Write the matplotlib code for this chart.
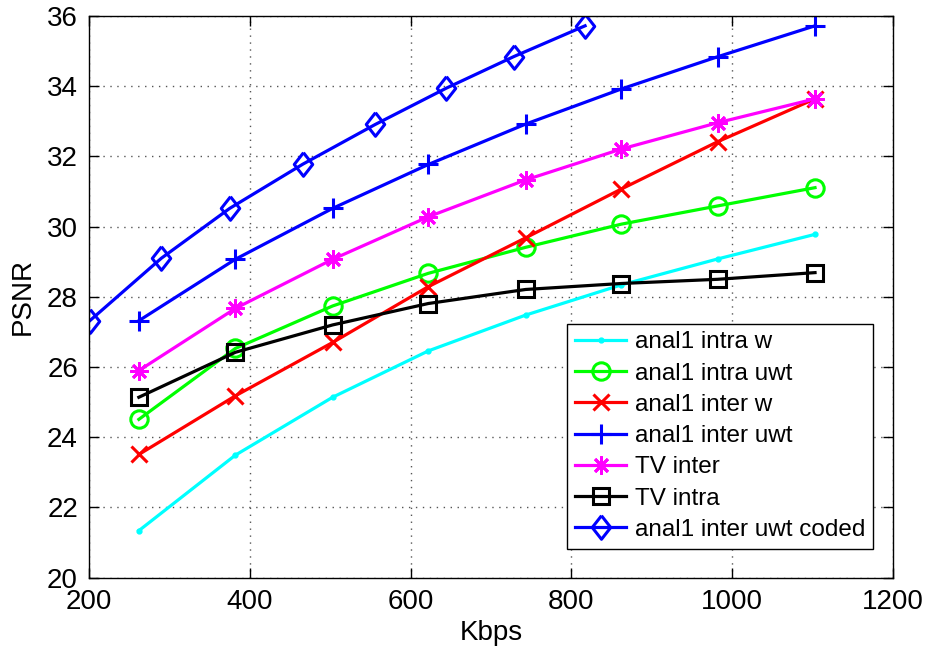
import numpy as np
import matplotlib
matplotlib.use("Agg")
import matplotlib.pyplot as plt

plt.rcParams['font.family'] = ['Liberation Sans', 'DejaVu Sans']

# rates (Kbps)
rate = [262, 382, 503, 622, 743, 862, 982, 1103]
rate_coded = [201, 290, 375, 466, 556, 644, 728, 817]

# PSNR values
intra_w = [21.34, 23.49, 25.14, 26.46, 27.48, 28.34, 29.08, 29.78]
intra_uwt = [24.51, 26.53, 27.74, 28.67, 29.41, 30.07, 30.59, 31.11]
inter_w = [23.51, 25.18, 26.70, 28.29, 29.68, 31.07, 32.42, 33.64]
inter_uwt = [27.32, 29.07, 30.52, 31.77, 32.92, 33.92, 34.84, 35.72]
tv_inter = [25.90, 27.67, 29.07, 30.28, 31.33, 32.21, 32.96, 33.64]
tv_intra = [25.14, 26.42, 27.20, 27.81, 28.21, 28.38, 28.50, 28.69]
inter_uwt_coded = [27.32, 29.10, 30.52, 31.78, 32.91, 33.94, 34.84, 35.72]

# matlab-like diamond (a bit taller than wide)
diamond = [(0, 1.15), (0.9, 0), (0, -1.15), (-0.9, 0), (0, 1.15)]

fig = plt.figure(figsize=(9.31, 6.47), dpi=100)
ax = fig.add_axes([0.0956, 0.1071, 0.8636, 0.8682])

lw = 2.3
ax.plot(rate, intra_w, '.-', color='cyan', lw=lw, ms=7, label='anal1 intra w')
ax.plot(rate, intra_uwt, 'o-', color='#00ff00', lw=lw, ms=12.5, mfc='none', mew=2.2, label='anal1 intra uwt')
ax.plot(rate, inter_w, 'x-', color='red', lw=lw, ms=12, mew=2.2, label='anal1 inter w')
ax.plot(rate, inter_uwt, '+-', color='blue', lw=lw, ms=14, mew=2.2, label='anal1 inter uwt')
ax.plot(rate, tv_inter, '-', marker=(8, 2, 0), color='magenta', lw=lw, ms=13, mew=2.0, label='TV inter')
ax.plot(rate, tv_intra, 's-', color='black', lw=lw, ms=11, mfc='none', mew=2.2, label='TV intra')
ax.plot(rate_coded, inter_uwt_coded, '-', marker=diamond, color='blue', lw=lw, ms=17, mfc='none', mew=2.2,
        label='anal1 inter uwt coded')

ax.set_xlim(200, 1200)
ax.set_ylim(20, 36)
ax.set_xticks(np.arange(200, 1201, 200))
ax.set_yticks(np.arange(20, 37, 2))
ax.tick_params(direction='in', top=True, right=True, length=7, width=1, labelsize=20, pad=8)
ax.grid(True, linestyle=(0, (1, 4)), color='#555555', lw=1)
for s in ax.spines.values():
    s.set_linewidth(1)

ax.set_xlabel('Kbps', fontsize=20, labelpad=4)
ax.set_ylabel('PSNR', fontsize=20, labelpad=8)

leg = ax.legend(loc='lower right', fontsize=17.5, fancybox=False, edgecolor='black',
                framealpha=1, borderpad=0.32, labelspacing=0.38, handlelength=2.1,
                handletextpad=0.35, borderaxespad=0, bbox_to_anchor=(0.975, 0.0516))
leg.get_frame().set_linewidth(1)

fig.savefig('out.png', dpi=100)
